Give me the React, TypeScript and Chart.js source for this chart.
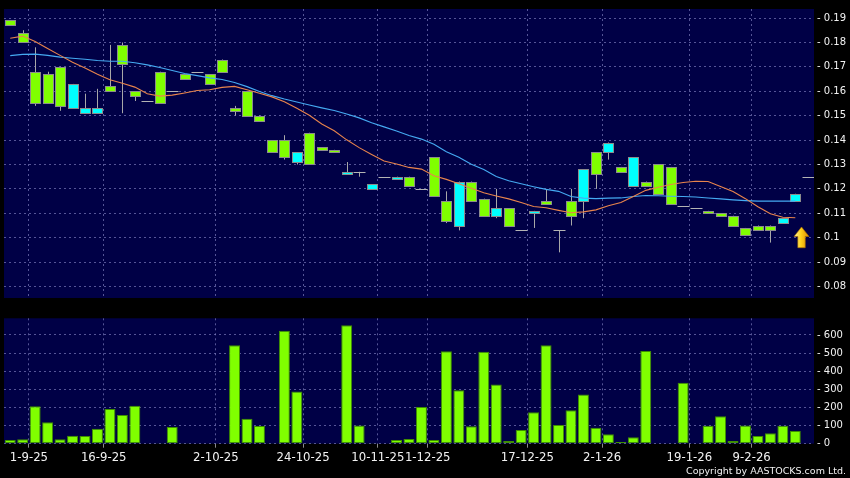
import React, { useEffect, useRef } from "react";
import { Chart, registerables } from "chart.js";

Chart.register(...registerables);

// ---- Data ----
const openP = [
  0.189, 0.184, 0.168, 0.167, 0.170, 0.153, 0.151, 0.151, 0.162, 0.179,
  0.160, 0.156, 0.168, 0.160, 0.167, 0.168, 0.167, 0.173, 0.153, 0.160,
  0.150, 0.140, 0.140, 0.131, 0.143, 0.137, 0.136, 0.126, 0.127, 0.120,
  0.125, 0.124, 0.125, 0.120, 0.133, 0.115, 0.105, 0.123, 0.116, 0.109,
  0.112, 0.103, 0.110, 0.115, 0.103, 0.115, 0.115, 0.135, 0.135, 0.129,
  0.121, 0.123, 0.130, 0.129, 0.113, 0.112, 0.111, 0.110, 0.109, 0.104,
  0.105, 0.105, 0.106, 0.115, 0.125,
];
const highP = [
  0.189, 0.185, 0.178, 0.168, 0.170, 0.163, 0.159, 0.161, 0.179, 0.180,
  0.160, 0.156, 0.168, 0.160, 0.167, 0.168, 0.167, 0.173, 0.154, 0.160,
  0.150, 0.140, 0.142, 0.135, 0.143, 0.137, 0.136, 0.131, 0.127, 0.122,
  0.125, 0.125, 0.125, 0.120, 0.133, 0.119, 0.123, 0.123, 0.116, 0.120,
  0.112, 0.103, 0.111, 0.120, 0.103, 0.120, 0.128, 0.135, 0.139, 0.129,
  0.133, 0.123, 0.130, 0.129, 0.113, 0.112, 0.111, 0.110, 0.109, 0.104,
  0.105, 0.105, 0.108, 0.118, 0.125,
];
const lowP = [
  0.187, 0.180, 0.154, 0.155, 0.152, 0.153, 0.151, 0.151, 0.160, 0.151,
  0.156, 0.156, 0.155, 0.160, 0.165, 0.168, 0.163, 0.168, 0.150, 0.150,
  0.148, 0.135, 0.132, 0.130, 0.130, 0.136, 0.135, 0.126, 0.125, 0.120,
  0.125, 0.124, 0.121, 0.120, 0.117, 0.106, 0.103, 0.115, 0.109, 0.108,
  0.105, 0.103, 0.104, 0.114, 0.094, 0.105, 0.108, 0.120, 0.132, 0.127,
  0.121, 0.121, 0.118, 0.114, 0.113, 0.112, 0.110, 0.109, 0.105, 0.101,
  0.103, 0.098, 0.106, 0.115, 0.125,
];
const closeP = [
  0.187, 0.180, 0.155, 0.155, 0.154, 0.163, 0.153, 0.153, 0.160, 0.171,
  0.158, 0.156, 0.155, 0.160, 0.165, 0.168, 0.163, 0.168, 0.152, 0.150,
  0.148, 0.135, 0.133, 0.135, 0.130, 0.136, 0.135, 0.127, 0.127, 0.122,
  0.125, 0.125, 0.121, 0.120, 0.117, 0.107, 0.123, 0.115, 0.109, 0.112,
  0.105, 0.103, 0.111, 0.114, 0.103, 0.109, 0.128, 0.126, 0.139, 0.127,
  0.133, 0.121, 0.118, 0.114, 0.113, 0.112, 0.110, 0.109, 0.105, 0.101,
  0.103, 0.103, 0.108, 0.118, 0.125,
];
const volume: (number | null)[] = [
  20, 24, 206, 119, 24, 44, 42, 83, 191, 158,
  209, 0, 4, 92, 4, 0, 0, 0, 543, 138,
  97, 4, 623, 288, 4, 3, 0, 654, 101, 4,
  3, 20, 26, 202, 20, 510, 295, 96, 508, 327,
  15, 75, 173, 543, 103, 185, 272, 88, 52, 9,
  35, 512, 2, 2, 336, 3, 99, 152, 15, 101,
  42, 57, 99, 70, null,
];
const maOrange = [
  0.1817, 0.1826, 0.1804, 0.1775, 0.1747, 0.1719, 0.1695, 0.1670, 0.1647, 0.1633,
  0.1617, 0.1590, 0.1580, 0.1584, 0.1593, 0.1603, 0.1606, 0.1616, 0.1620, 0.1606,
  0.1592, 0.1577, 0.1557, 0.1530, 0.1502, 0.1466, 0.1438, 0.1401, 0.1369, 0.1341,
  0.1314, 0.1302, 0.1288, 0.1281, 0.1254, 0.1239, 0.1221, 0.1203, 0.1184, 0.1171,
  0.1159, 0.1144, 0.1128, 0.1123, 0.1112, 0.1102, 0.1106, 0.1114, 0.1131, 0.1144,
  0.1169, 0.1194, 0.1207, 0.1218, 0.1226, 0.1231, 0.1230, 0.1210, 0.1189, 0.1160,
  0.1127, 0.1098, 0.1084, 0.1082,
];
const maBlue = [
  0.1746, 0.1751, 0.1752, 0.1747, 0.1740, 0.1735, 0.1731, 0.1726, 0.1723, 0.1723,
  0.1717, 0.1708, 0.1697, 0.1685, 0.1673, 0.1664, 0.1655, 0.1648, 0.1636, 0.1619,
  0.1599, 0.1582, 0.1568, 0.1556, 0.1544, 0.1532, 0.1521, 0.1507, 0.1491, 0.1471,
  0.1454, 0.1437, 0.1419, 0.1404, 0.1383, 0.1352, 0.1330, 0.1301, 0.1279, 0.1251,
  0.1233, 0.1221, 0.1209, 0.1198, 0.1190, 0.1169, 0.1162, 0.1160, 0.1162, 0.1163,
  0.1169, 0.1173, 0.1172, 0.1170, 0.1169, 0.1167, 0.1163, 0.1159, 0.1155, 0.1152,
  0.1150, 0.1150, 0.1150, 0.1150,
];
const dateLabels = ["1-9-25", "16-9-25", "2-10-25", "24-10-25", "10-11-25", "1-12-25", "17-12-25", "2-1-26", "19-1-26", "9-2-26"];
const dateSlots = [1.5, 7.5, 16.5, 23.5, 29.5, 33.5, 41.5, 47.5, 54.5, 59.5];
const priceTicks = [0.08, 0.09, 0.1, 0.11, 0.12, 0.13, 0.14, 0.15, 0.16, 0.17, 0.18, 0.19];
const volumeTicks = [0, 100, 200, 300, 400, 500, 600];
const signalArrow = { slot: 63.5, top: 0.1044, bottom: 0.0959 };
const copyright = "Copyright by AASTOCKS.com Ltd.";

// ---- Styles ----
const FONT = "'DejaVu Sans', sans-serif";
const NAVY = "#000046";
const GRID = "rgba(130,130,195,0.65)";
const TEXT = "#f2f2f2";
const GREEN = "#80ff00";
const CYAN = "#00ffff";

const panelBg = {
  id: "panelBg",
  beforeDraw(chart: any) {
    const { ctx, chartArea } = chart;
    ctx.save();
    ctx.fillStyle = NAVY;
    ctx.fillRect(chartArea.left, chartArea.top, chartArea.right - chartArea.left, chartArea.bottom - chartArea.top);
    ctx.restore();
  },
};

const candles = {
  id: "candles",
  beforeDatasetsDraw(chart: any) {
    const { ctx, chartArea } = chart;
    const x = chart.scales.x;
    const y = chart.scales.y;
    const slotW = x.getPixelForValue(1) - x.getPixelForValue(0);
    const bw = Math.round(slotW * 0.8);
    ctx.save();
    ctx.beginPath();
    ctx.rect(chartArea.left, chartArea.top, chartArea.right - chartArea.left, chartArea.bottom - chartArea.top);
    ctx.clip();
    ctx.lineWidth = 1;
    for (let i = 0; i < openP.length; i++) {
      const cx = Math.round(x.getPixelForValue(i));
      const yo = y.getPixelForValue(openP[i]);
      const yc = y.getPixelForValue(closeP[i]);
      const yh = y.getPixelForValue(highP[i]);
      const yl = y.getPixelForValue(lowP[i]);
      if (Math.abs(yl - yh) > 0.5) {
        ctx.strokeStyle = "#a8a8a8";
        ctx.beginPath();
        ctx.moveTo(cx + 0.5, yh);
        ctx.lineTo(cx + 0.5, yl);
        ctx.stroke();
      }
      if (openP[i] === closeP[i]) {
        ctx.strokeStyle = "#b4b4b4";
        const yy = Math.round(yo) + 0.5;
        ctx.beginPath();
        ctx.moveTo(cx - bw / 2 - 0.5, yy);
        ctx.lineTo(cx + bw / 2 + 1.5, yy);
        ctx.stroke();
        continue;
      }
      const top = Math.round(Math.min(yo, yc));
      const bot = Math.round(Math.max(yo, yc));
      const left = cx - Math.floor(bw / 2);
      ctx.fillStyle = closeP[i] > openP[i] ? CYAN : GREEN;
      ctx.fillRect(left, top, bw, Math.max(bot - top, 1));
      ctx.strokeStyle = "#8c8c8c";
      ctx.strokeRect(left + 0.5, top + 0.5, bw, Math.max(bot - top, 1));
    }
    ctx.restore();
  },
};

const arrow = {
  id: "arrow",
  afterDatasetsDraw(chart: any) {
    const { ctx } = chart;
    const x = chart.scales.x;
    const y = chart.scales.y;
    const cx = x.getPixelForValue(signalArrow.slot);
    const top = y.getPixelForValue(signalArrow.top);
    const bottom = y.getPixelForValue(signalArrow.bottom);
    const headH = (bottom - top) * 0.46;
    const hh = 7.5;
    const hs = 3.7;
    ctx.save();
    const g = ctx.createLinearGradient(cx - hh, 0, cx + hh, 0);
    g.addColorStop(0, "#fff6a8");
    g.addColorStop(0.45, "#ffd21a");
    g.addColorStop(1, "#d88a00");
    ctx.fillStyle = g;
    ctx.beginPath();
    ctx.moveTo(cx, top);
    ctx.lineTo(cx + hh, top + headH);
    ctx.lineTo(cx + hs, top + headH);
    ctx.lineTo(cx + hs, bottom);
    ctx.lineTo(cx - hs, bottom);
    ctx.lineTo(cx - hs, top + headH);
    ctx.lineTo(cx - hh, top + headH);
    ctx.closePath();
    ctx.fill();
    ctx.strokeStyle = "rgba(170,110,0,0.8)";
    ctx.lineWidth = 0.8;
    ctx.stroke();
    ctx.restore();
  },
};

const copyrightPlugin = {
  id: "copyright",
  afterDraw(chart: any) {
    const { ctx, width, height } = chart;
    ctx.save();
    ctx.font = `9.5px ${FONT}`;
    ctx.fillStyle = TEXT;
    ctx.textAlign = "right";
    ctx.textBaseline = "alphabetic";
    ctx.fillText(copyright, width - 4, height - 4.5);
    ctx.restore();
  },
};

const fmtPrice = (v: number) => String(parseFloat(Number(v).toFixed(2)));

function xScale(showLabels: boolean): any {
  return {
    type: "linear",
    min: -0.5,
    max: 64.5,
    offset: false,
    afterBuildTicks: (s: any) => {
      s.ticks = dateSlots.map((v) => ({ value: v }));
    },
    ticks: {
      display: showLabels,
      autoSkip: false,
      maxRotation: 0,
      minRotation: 0,
      color: TEXT,
      padding: 3,
      font: { family: FONT, size: 11.7 },
      callback: (_v: any, i: number) => dateLabels[i],
    },
    grid: {
      color: GRID,
      offset: false,
      drawTicks: showLabels,
      tickLength: 4,
      tickColor: "#8a8a8a",
      tickBorderDash: [],
      lineWidth: 1,
    },
    border: { display: false, dash: [2, 3] },
    afterFit: (s: any) => {
      s.height = showLabels ? 34.3 : 0;
    },
  };
}

function yScale(min: number, max: number, ticks: number[], fmt: (v: number) => string): any {
  return {
    position: "right",
    min,
    max,
    afterBuildTicks: (s: any) => {
      s.ticks = ticks.map((v) => ({ value: v }));
    },
    ticks: {
      color: TEXT,
      padding: 3,
      font: { family: FONT, size: 10 },
      callback: (v: any) => "- " + fmt(Number(v)),
    },
    grid: { color: GRID, drawTicks: false, lineWidth: 1 },
    border: { display: false, dash: [2, 3] },
    afterFit: (s: any) => {
      s.width = 36;
    },
  };
}

const common: any = {
  animation: false,
  responsive: false,
  maintainAspectRatio: false,
  devicePixelRatio: 1,
  events: [],
  plugins: { legend: { display: false }, tooltip: { enabled: false } },
};

export default function App() {
  const priceRef = useRef<HTMLCanvasElement>(null);
  const volRef = useRef<HTMLCanvasElement>(null);

  useEffect(() => {
    const priceChart = new Chart(priceRef.current as HTMLCanvasElement, {
      type: "line",
      data: {
        datasets: [
          {
            data: maOrange.map((v, i) => ({ x: i, y: v })),
            borderColor: "#e8844c",
            borderWidth: 1.1,
            pointRadius: 0,
            tension: 0,
            fill: false,
          },
          {
            data: maBlue.map((v, i) => ({ x: i, y: v })),
            borderColor: "#45aaf2",
            borderWidth: 1.1,
            pointRadius: 0,
            tension: 0,
            fill: false,
          },
        ],
      },
      options: {
        ...common,
        layout: { padding: { left: 4, top: 6, right: 0, bottom: 0 } },
        scales: {
          x: xScale(false),
          y: yScale(0.0753, 0.1937, priceTicks, fmtPrice),
        },
      },
      plugins: [panelBg, candles, arrow],
    } as any);

    const volChart = new Chart(volRef.current as HTMLCanvasElement, {
      type: "bar",
      data: {
        datasets: [
          {
            data: volume.map((v, i) => ({ x: i, y: v })),
            backgroundColor: GREEN,
            borderColor: "#3f8f00",
            borderWidth: 1,
            borderSkipped: false,
            barPercentage: 1,
            categoryPercentage: 0.88,
          },
        ],
      },
      options: {
        ...common,
        layout: { padding: { left: 4, top: 11.3, right: 0, bottom: 0 } },
        scales: {
          x: xScale(true),
          y: yScale(0, 692, volumeTicks, (v) => String(v)),
        },
      },
      plugins: [panelBg, copyrightPlugin],
    } as any);

    return () => {
      priceChart.destroy();
      volChart.destroy();
    };
  }, []);

  return (
    <div
      style={{
        position: "fixed",
        left: 0,
        top: 0,
        width: 850,
        height: 478,
        background: "#000",
        overflow: "hidden",
      }}
    >
      <canvas
        ref={priceRef}
        width={850}
        height={307}
        style={{ position: "absolute", left: 0, top: 0, width: 850, height: 307 }}
      />
      <canvas
        ref={volRef}
        width={850}
        height={171}
        style={{ position: "absolute", left: 0, top: 307, width: 850, height: 171 }}
      />
    </div>
  );
}
